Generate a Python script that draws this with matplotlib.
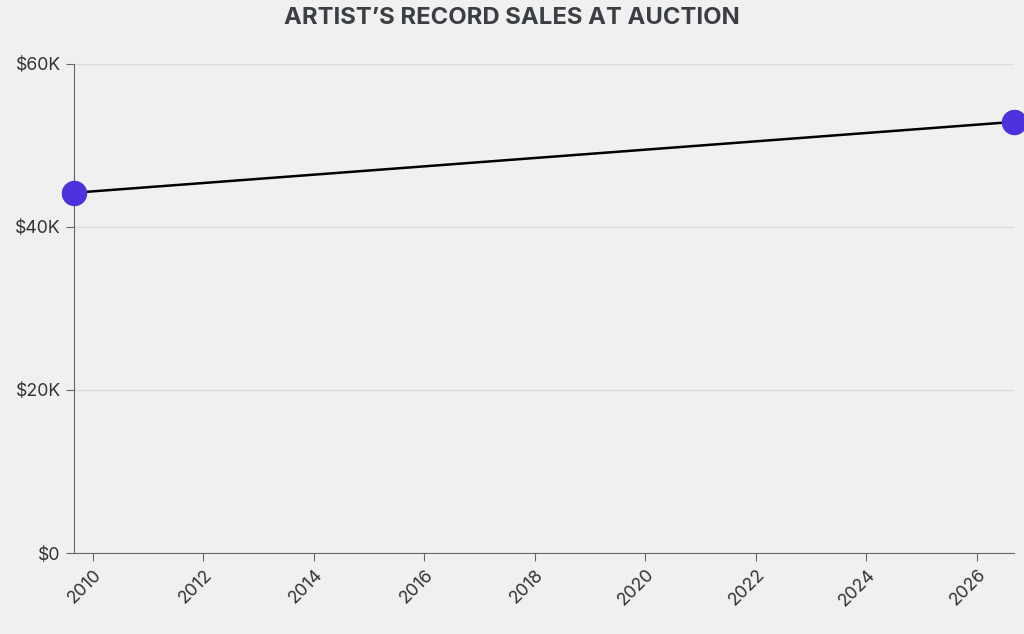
import matplotlib
matplotlib.use('Agg')
import matplotlib.pyplot as plt
from matplotlib.ticker import FuncFormatter

# sale dates (decimal years) and prices in dollars
years = [2009.66, 2026.67]
prices = [44200, 52900]
x_ticks = [2010, 2012, 2014, 2016, 2018, 2020, 2022, 2024, 2026]
y_ticks = [0, 20000, 40000, 60000]


def money(v, pos):
    if v == 0:
        return '$0'
    return '${:.0f}K'.format(v / 1000)


def main():
    plt.rcParams['font.family'] = ['Inter', 'DejaVu Sans']
    fig = plt.figure(figsize=(10.24, 6.34), dpi=100)
    fig.set_facecolor('#f0f0f0')
    ax = fig.add_axes([74 / 1024, 81 / 634, 940 / 1024, 489 / 634])
    ax.set_facecolor('#f0f0f0')

    ax.plot(years, prices, color='black', lw=1.8, zorder=3, clip_on=False)
    ax.scatter(years, prices, s=300, color='#4b32dc', zorder=4, clip_on=False)

    ax.set_xlim(years[0], years[-1])
    ax.set_ylim(0, 60000)
    ax.set_xticks(x_ticks)
    ax.set_yticks(y_ticks)
    ax.yaxis.set_major_formatter(FuncFormatter(money))
    ax.grid(axis='y', color='#dddddd', lw=1)
    ax.set_axisbelow(True)

    for side in ['top', 'right']:
        ax.spines[side].set_visible(False)
    for side in ['left', 'bottom']:
        ax.spines[side].set_color('#666666')
    ax.tick_params(colors='#666666', labelcolor='#333333', labelsize=12.8, length=6)
    plt.setp(ax.get_xticklabels(), rotation=45, ha='right', rotation_mode='anchor')

    fig.text(0.5, 1 - 18 / 634, 'ARTIST\u2019S RECORD SALES AT AUCTION', ha='center', va='center',
             fontsize=17.2, fontweight='bold', color='#3b3f43')

    fig.savefig('out.png', dpi=100, facecolor=fig.get_facecolor())


if __name__ == '__main__':
    main()
